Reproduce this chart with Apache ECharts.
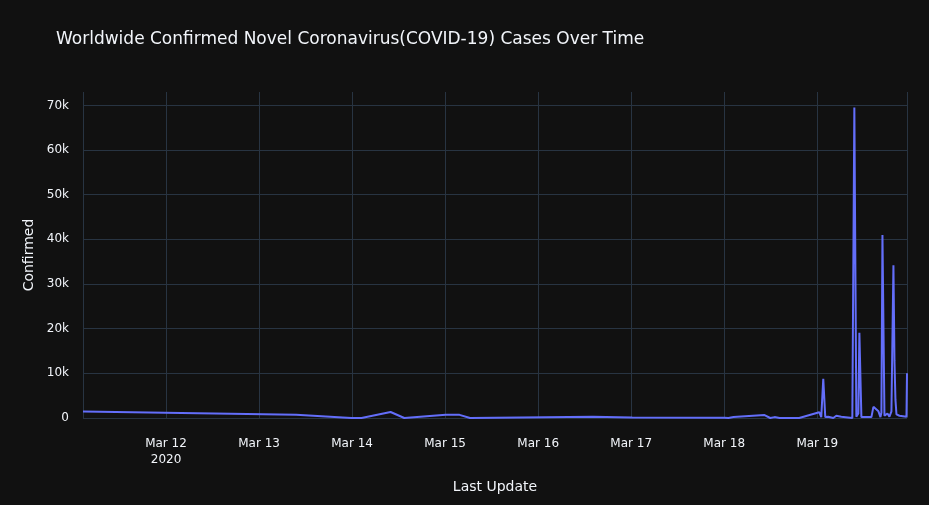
<!DOCTYPE html>
<html><head><meta charset="utf-8">
<script src="https://cdn.jsdelivr.net/npm/echarts@6/dist/echarts.min.js"></script>
<style>html,body{margin:0;background:#111111}#c{width:929px;height:505px}</style>
</head><body><div id="c"></div>
<script>
const times = [
"2020-03-11T02:35","2020-03-13T09:34","2020-03-13T23:49","2020-03-14T02:26","2020-03-14T09:56","2020-03-14T13:28",
"2020-03-15T00:10","2020-03-15T03:43","2020-03-15T06:26","2020-03-16T14:10","2020-03-16T14:26","2020-03-17T00:16",
"2020-03-18T00:03","2020-03-18T00:22","2020-03-18T01:05","2020-03-18T02:23","2020-03-18T10:24","2020-03-18T11:52",
"2020-03-18T12:59","2020-03-18T14:17","2020-03-18T19:20",
"2020-03-19T00:31","2020-03-19T01:02","2020-03-19T01:33","2020-03-19T02:04","2020-03-19T02:50","2020-03-19T04:08",
"2020-03-19T04:55","2020-03-19T06:12","2020-03-19T09:03","2020-03-19T09:34","2020-03-19T10:05","2020-03-19T10:36",
"2020-03-19T10:52","2020-03-19T11:23","2020-03-19T13:58","2020-03-19T14:29","2020-03-19T15:47","2020-03-19T16:18",
"2020-03-19T16:33","2020-03-19T16:49","2020-03-19T17:20","2020-03-19T18:06","2020-03-19T18:37","2020-03-19T19:08",
"2020-03-19T19:39","2020-03-19T19:55","2020-03-19T20:10","2020-03-19T20:26","2020-03-19T20:41","2020-03-19T21:12",
"2020-03-19T23:01","2020-03-19T23:09"];
const confirmed = [
1430,750,0,0,1350,0,
750,700,0,300,50,100,
50,400,0,200,650,0,
200,0,0,
1300,200,8800,200,300,0,
500,300,0,69500,300,1000,
19100,200,200,2500,1500,200,
1200,41000,500,1000,300,1500,
34200,12900,4100,800,800,500,
300,10000];
const xMin = "2020-03-11T02:35", xMax = "2020-03-19T23:09";
const chart = echarts.init(document.getElementById('c'));
const F = 'DejaVu Sans';
const axisTxt = {color:'#f2f5fa',fontSize:12,fontFamily:F};
chart.setOption({
  backgroundColor:'#111111',
  title:{text:'Worldwide Confirmed Novel Coronavirus(COVID-19) Cases Over Time',left:51,top:26,
    textStyle:{color:'#f2f5fa',fontSize:17,fontWeight:'normal',fontFamily:F}},
  grid:{left:83,right:22,top:92,bottom:87},
  xAxis:{type:'time',min:xMin,max:xMax,minInterval:86400000,maxInterval:86400000,
    name:'Last Update',nameLocation:'middle',nameGap:62,nameTextStyle:{color:'#f2f5fa',fontSize:14,fontFamily:F},
    axisLine:{show:false},axisTick:{show:false},
    splitLine:{show:true,lineStyle:{color:'#283442',width:1}},
    axisLabel:Object.assign({margin:18,lineHeight:16,hideOverlap:false,showMinLabel:false,showMaxLabel:false,
      formatter:function(v){const d=new Date(v);const s='Mar '+d.getDate();return d.getDate()===12?s+'\n2020':s;}},axisTxt)},
  yAxis:{type:'value',min:0,max:73000,interval:10000,
    name:'Confirmed',nameLocation:'middle',nameGap:47,nameTextStyle:{color:'#f2f5fa',fontSize:14,fontFamily:F},
    axisLine:{show:false},axisTick:{show:false},
    splitLine:{showMaxLine:false,lineStyle:{color:'#283442',width:1}},
    axisLabel:Object.assign({margin:14,showMaxLabel:false,formatter:function(v){return v===0?'0':(v/1000)+'k';}},axisTxt)},
  series:[{type:'line',data:times.map((t,i)=>[t,confirmed[i]]),showSymbol:false,
    lineStyle:{color:'#636efa',width:2},itemStyle:{color:'#636efa'},animation:false}]
});
</script></body></html>
